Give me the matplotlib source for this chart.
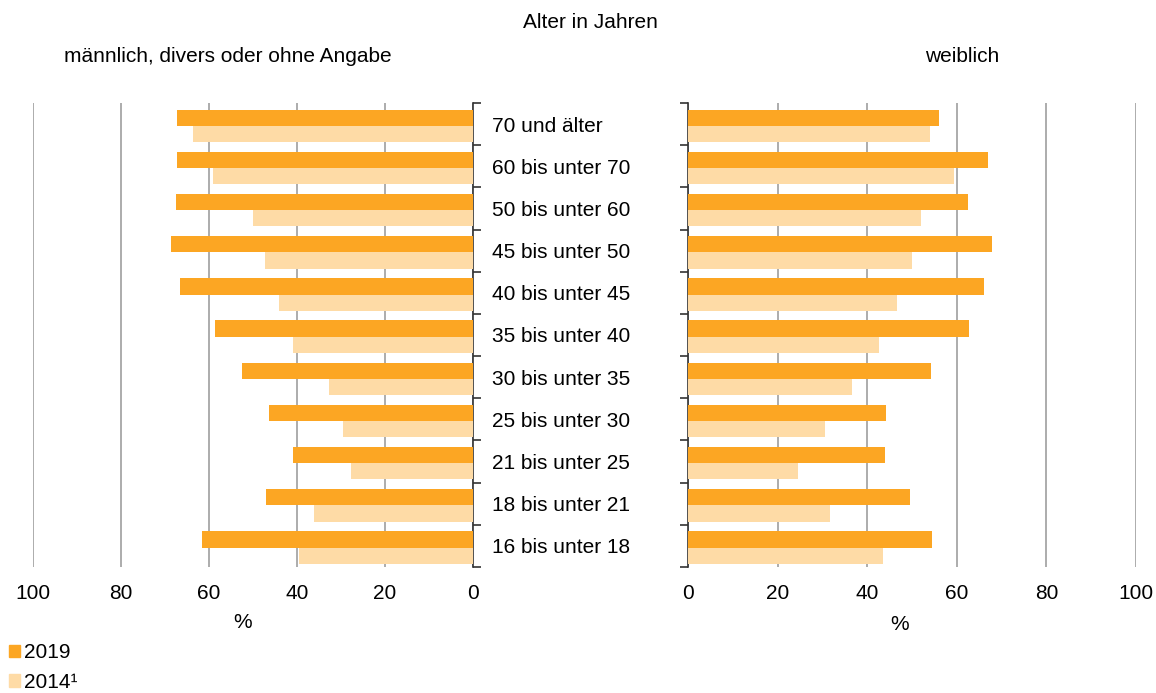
import numpy as np
import matplotlib.pyplot as plt
from matplotlib.patches import Patch

plt.rcParams['font.family'] = ['Liberation Sans', 'DejaVu Sans']

# Altersgruppen, von unten nach oben
gruppen = ["16 bis unter 18", "18 bis unter 21", "21 bis unter 25", "25 bis unter 30",
           "30 bis unter 35", "35 bis unter 40", "40 bis unter 45", "45 bis unter 50",
           "50 bis unter 60", "60 bis unter 70", "70 und älter"]

# männlich, divers oder ohne Angabe (%)
m_2019 = [61.5, 47.1, 40.8, 46.4, 52.6, 58.6, 66.7, 68.7, 67.6, 67.3, 67.2]
m_2014 = [39.5, 36.2, 27.8, 29.6, 32.7, 41.0, 44.1, 47.3, 50.1, 59.2, 63.7]

# weiblich (%)
w_2019 = [54.5, 49.6, 44.0, 44.3, 54.3, 62.8, 66.0, 67.8, 62.5, 66.9, 56.1]
w_2014 = [43.6, 31.7, 24.5, 30.5, 36.6, 42.6, 46.6, 49.9, 52.1, 59.3, 54.1]

c2019 = '#FCA623'
c2014 = '#FEDBA6'
fs = 15

fig = plt.figure(figsize=(11.56, 6.93), dpi=100)
ax_l = fig.add_axes([33/1156, 1-567/693, 440/1156, 464/693])
ax_r = fig.add_axes([688/1156, 1-567/693, 448/1156, 464/693])

y = np.arange(len(gruppen))
h = 0.385

for ax, v19, v14 in [(ax_l, m_2019, m_2014), (ax_r, w_2019, w_2014)]:
    ax.barh(y + h/2 - 0.04, v19, height=h, color=c2019, zorder=3)
    ax.barh(y - h/2 - 0.04, v14, height=h, color=c2014, zorder=3)
    ax.set_ylim(-0.5, len(gruppen) - 0.5)
    ax.set_xticks([0, 20, 40, 60, 80, 100])
    ax.grid(axis='x', color='#A6A6A6', linewidth=1.3, zorder=0)
    ax.tick_params(axis='x', length=0, pad=12, labelsize=fs)
    for s in ['top', 'bottom']:
        ax.spines[s].set_visible(False)

ax_l.set_xlim(100, 0)
ax_r.set_xlim(0, 100)

# linke Seite: Achse rechts mit Kategorienbeschriftung
ax_l.spines['left'].set_visible(False)
ax_l.spines['right'].set_color('#333333')
ax_l.spines['right'].set_linewidth(1.2)
ax_l.yaxis.tick_right()
ax_l.set_yticks(y)
ax_l.set_yticklabels(gruppen, fontsize=fs)
ax_l.set_yticks(np.arange(-0.5, len(gruppen)), minor=True)
ax_l.tick_params(axis='y', which='major', length=0, pad=13.5)
ax_l.tick_params(axis='y', which='minor', right=True, left=False, length=6, width=1.2, color='#333333')

# rechte Seite: Achse links
ax_r.spines['right'].set_visible(False)
ax_r.spines['left'].set_color('#333333')
ax_r.spines['left'].set_linewidth(1.2)
ax_r.set_yticks([])
ax_r.set_yticks(np.arange(-0.5, len(gruppen)), minor=True)
ax_r.tick_params(axis='y', which='minor', length=6, width=1.2, color='#333333')

fig.text(590/1156, 1-22/693, 'Alter in Jahren', ha='center', va='center', fontsize=fs)
fig.text(228/1156, 1-57/693, 'männlich, divers oder ohne Angabe', ha='center', va='center', fontsize=fs)
fig.text(962/1156, 1-57/693, 'weiblich', ha='center', va='center', fontsize=fs)
fig.text(243/1156, 1-622/693, '%', ha='center', va='center', fontsize=fs)
fig.text(900/1156, 1-625/693, '%', ha='center', va='center', fontsize=fs)

handles = [Patch(color=c2019, label='2019'), Patch(color=c2014, label='2014¹')]
fig.legend(handles=handles, loc='upper left', bbox_to_anchor=(0.002, 1-637/693),
           frameon=False, fontsize=fs, handlelength=0.55, handleheight=0.55,
           handletextpad=0.2, labelspacing=0.5, borderaxespad=0, borderpad=0.3)

fig.savefig('out.png', dpi=100)
